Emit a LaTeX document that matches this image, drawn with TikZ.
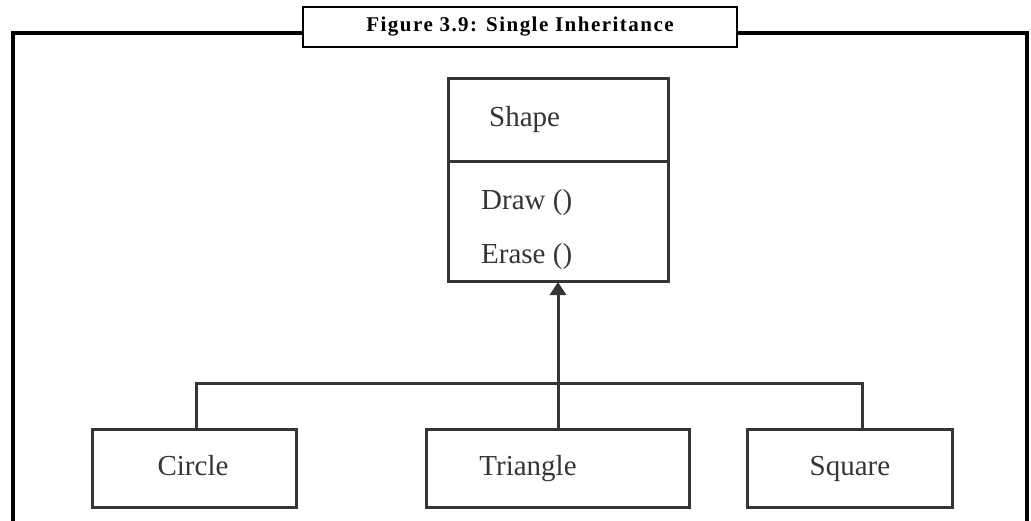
\documentclass[tikz,border=0pt]{standalone}
\usepackage{fontspec}
\setmainfont{Liberation Serif}
\usetikzlibrary{arrows.meta}
\definecolor{ink}{HTML}{353535}
\tikzset{
  cls/.style={draw=ink, line width=3pt, fill=white},
  lbl/.style={text=ink, font=\fontsize{29}{32}\selectfont, inner sep=0pt},
  wire/.style={draw=ink, line width=3pt},
}
\begin{document}
\begin{tikzpicture}[x=1pt,y=-1pt]
\useasboundingbox (0,0) rectangle (1031,520);
% outer frame, open at the bottom
\draw[line width=3.2pt, black] (13,524) -- (13,33) -- (1027,33) -- (1027,524);
% caption box
\node[draw=black, line width=2.6pt, fill=white, minimum width=434pt, minimum height=40pt,
      inner sep=0pt, font=\bfseries\fontsize{21}{24}\selectfont\addfontfeature{LetterSpace=7}]
      (cap) at (520,27) {Figure 3.9: Single Inheritance};
% base class with its two compartments
\draw[cls] (448,78) rectangle (668,281);
\draw[wire] (448,161) -- (668,161);
\coordinate (base) at (558,282);
\node[lbl, anchor=base west] (nm) at (489,126) {Shape};
\node[lbl, anchor=base west] (m1) at (481,209) {Draw ()};
\node[lbl, anchor=base west] (m2) at (481,263) {Erase ()};
% derived classes
\node[cls, minimum width=204pt, minimum height=78pt, inner sep=0pt] (circ) at (194,468) {};
\node[cls, minimum width=263pt, minimum height=78pt, inner sep=0pt] (tri) at (558,468) {};
\node[cls, minimum width=205pt, minimum height=78pt, inner sep=0pt] (sq) at (850,468) {};
\node[lbl, anchor=base] (tc) at (193,475) {Circle};
\node[lbl, anchor=base] (tt) at (528,475) {Triangle};
\node[lbl, anchor=base] (ts) at (850,475) {Square};
% inheritance connectors
\coordinate (cl) at (196,383);
\coordinate (cr) at (862,383);
\draw[wire] (196,429) -- (cl) -- (cr) -- (862,429);
\draw[wire, -{Triangle[length=13pt,width=16pt]}] (tri.north) -- (base);
\end{tikzpicture}
\end{document}
